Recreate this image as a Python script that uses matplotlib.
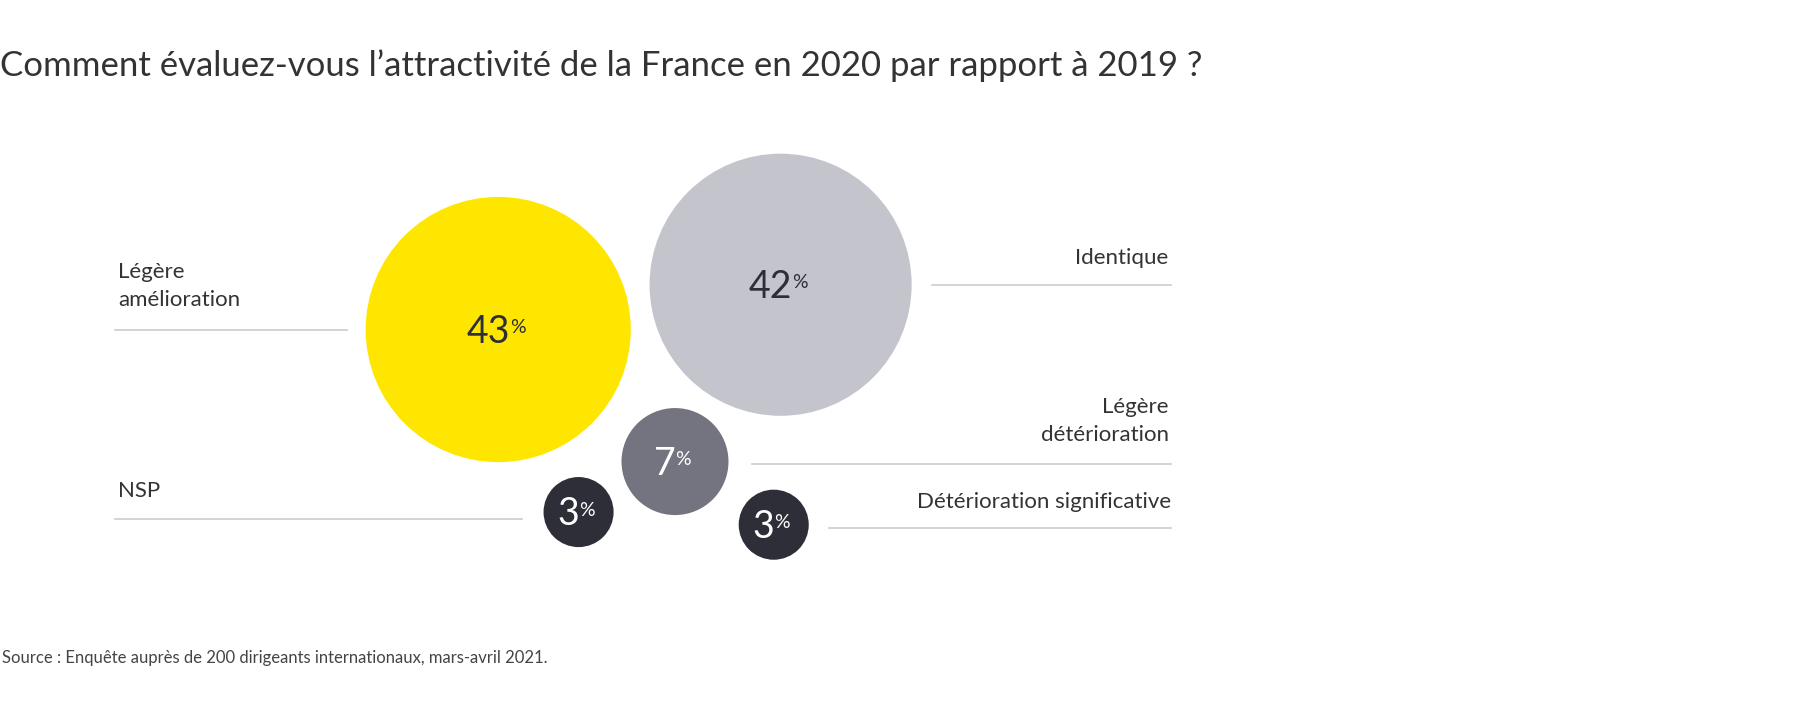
import matplotlib.pyplot as plt
from matplotlib.patches import Circle

plt.rcParams['font.family'] = ['Lato', 'DejaVu Sans']

# survey answers
categories = ['Légère\namélioration', 'Identique', 'Légère\ndétérioration', 'NSP', 'Détérioration significative']
values = [43, 42, 7, 3, 3]
colors = ['#FFE600', '#C4C4CD', '#747480', '#2E2E38', '#2E2E38']
text_colors = ['#2E2E38', '#2E2E38', '#FFFFFF', '#FFFFFF', '#FFFFFF']

# bubble centres (layout, in canvas units)
centers = [(434, 287), (680, 248), (588, 402), (504, 446), (674, 457)]
# label position, side, and guide line (x0, x1, y)
label_pos = [(103, 249, 'left'), (1018, 225, 'right'), (1018, 367, 'right'), (103, 428, 'left'), (1020, 437, 'right')]
guides = [(100, 302, 287), (812, 1020, 248), (655, 1020, 404), (100, 455, 452), (722, 1020, 460)]

title = "Comment évaluez-vous l’attractivité de la France en 2020 par rapport à 2019 ?"
source = "Source : Enquête auprès de 200 dirigeants internationaux, mars-avril 2021."

W, H = 1568, 621
fig = plt.figure(figsize=(18, 7.13), dpi=100)
ax = fig.add_axes([0, 0, 1, 1])
ax.set_xlim(0, W)
ax.set_ylim(H, 0)
ax.axis('off')

k = 115.5 / 43 ** 0.5  # area proportional to value
for v, (cx, cy), c, tc in zip(values, centers, colors, text_colors):
    ax.add_patch(Circle((cx, cy), k * v ** 0.5, color=c, lw=0))
    num = ax.text(cx - 9, cy + 2, str(v), ha='center', va='center', fontsize=27,
                  color=tc)
    ax.annotate('%', xy=(1.0, 0.85), xycoords=num, ha='left', va='top', fontsize=14,
                color=tc)

for lab, (lx, ly, side), (x0, x1, gy) in zip(categories, label_pos, guides):
    ax.text(lx, ly, lab, ha=side, va='center', fontsize=16, color='#333333',
            linespacing=1.5)
    ax.plot([x0, x1], [gy, gy], color='#CCCCCC', lw=1.2)

ax.text(0, 57, title, ha='left', va='center', fontsize=25, color='#333333')
ax.text(2, 573, source, ha='left', va='center', fontsize=12, color='#444444')

fig.savefig('out.png', dpi=100, facecolor='white')
